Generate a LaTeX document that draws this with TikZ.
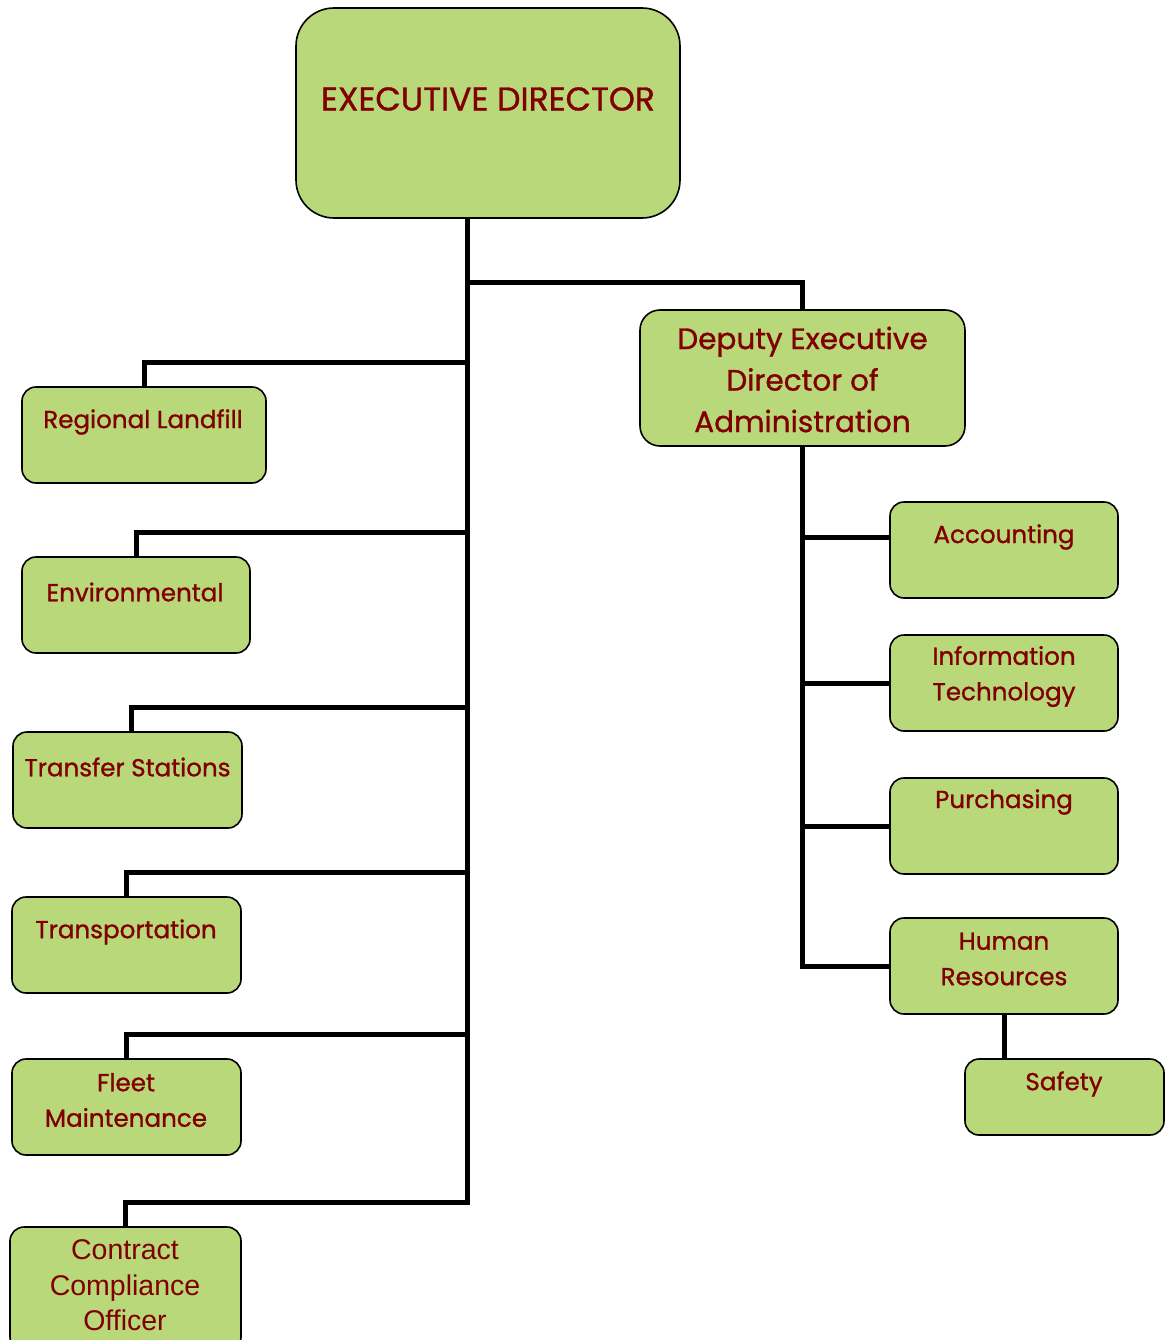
\documentclass[tikz,border=0pt]{standalone}
\usepackage{fontspec}
\setmainfont{Poppins}[FakeBold=1]
\newfontfamily\arialf{Liberation Sans}
\definecolor{boxfill}{RGB}{184,216,122}
\definecolor{txt}{RGB}{128,0,0}
\begin{document}
\begin{tikzpicture}[x=1pt,y=-1pt,
  box/.style={draw=black,line width=1.6pt,fill=boxfill,rounded corners=14pt,inner sep=0pt},
  lbl/.style={text=txt,align=center,inner sep=0pt,font=\fontsize{24.6}{35.5}\selectfont},
  conn/.style={draw=black,line width=5pt,line join=miter}]
\useasboundingbox (0,0) rectangle (1170,1340);
% boxes
\node[box,rounded corners=38pt,minimum width=384pt,minimum height=210pt] (ed) at (488,113) {};
\node[box,rounded corners=20pt,minimum width=325pt,minimum height=136pt] (dep) at (802.5,378) {};
\node[box,minimum width=244pt,minimum height=96pt] (rl) at (144,435) {};
\node[box,minimum width=228pt,minimum height=96pt] (env) at (136,605) {};
\node[box,minimum width=229pt,minimum height=96pt] (ts) at (127.5,780) {};
\node[box,minimum width=229pt,minimum height=96pt] (tr) at (126.5,945) {};
\node[box,minimum width=229pt,minimum height=96pt] (fm) at (126.5,1107) {};
\node[box,minimum width=231pt,minimum height=124pt] (cco) at (125.5,1289) {};
\node[box,minimum width=228pt,minimum height=96pt] (acc) at (1004,550) {};
\node[box,minimum width=228pt,minimum height=96pt] (it) at (1004,683) {};
\node[box,minimum width=228pt,minimum height=96pt] (pur) at (1004,826) {};
\node[box,minimum width=228pt,minimum height=96pt] (hr) at (1004,966) {};
\node[box,minimum width=199pt,minimum height=76pt] (saf) at (1064.5,1097) {};
% labels
\node[lbl,font=\fontsize{33}{40}\selectfont] (edt) at (488,99) {EXECUTIVE DIRECTOR};
\node[lbl,font=\fontsize{29.5}{41.5}\selectfont] (dept) at (802.5,379.5) {Deputy Executive\\Director of\\Administration};
\node[lbl] (rlt) at (143,422) {Regional Landfill};
\node[lbl] (envt) at (135,592) {Environmental};
\node[lbl] (tst) at (127.5,767) {Transfer Stations};
\node[lbl] (trt) at (126,932) {Transportation};
\node[lbl] (fmt) at (126,1100) {Fleet\\Maintenance};
\node[lbl,font=\arialf\fontsize{28.5}{35.5}\selectfont] (ccot) at (125,1285.5) {Contract\\Compliance\\Officer};
\node[lbl] (acct) at (1004,537) {Accounting};
\node[lbl] (itt) at (1004,676.5) {Information\\Technology};
\node[lbl] (purt) at (1004,802) {Purchasing};
\node[lbl] (hrt) at (1004,959) {Human\\Resources};
\node[lbl] (saft) at (1064,1084) {Safety};
% junctions
\coordinate (j0) at (467,282);
\coordinate (j1) at (467,362);
\coordinate (j2) at (467,532);
\coordinate (j3) at (467,707);
\coordinate (j4) at (467,872);
\coordinate (j5) at (467,1034);
\coordinate (j6) at (467,1202);
\coordinate (k1) at (802,537);
\coordinate (k2) at (802,683);
\coordinate (k3) at (802,826);
% connectors
\draw[conn] ([xshift=-21pt]ed.south) -- (j6) -| (cco.north);
\draw[conn] (j0) -| (dep.north);
\draw[conn] (j1) -| (rl.north);
\draw[conn] (j2) -| (env.north);
\draw[conn] (j3) -| ([xshift=3.5pt]ts.north);
\draw[conn] (j4) -| (tr.north);
\draw[conn] (j5) -| (fm.north);
\draw[conn] (dep.south) |- (hr.west);
\draw[conn] (k1) -- (k1 -| acc.west);
\draw[conn] (k2) -- (k2 -| it.west);
\draw[conn] (k3) -- (k3 -| pur.west);
\draw[conn] (hr.south) -- (hr.south |- saf.north);
\end{tikzpicture}
\end{document}
